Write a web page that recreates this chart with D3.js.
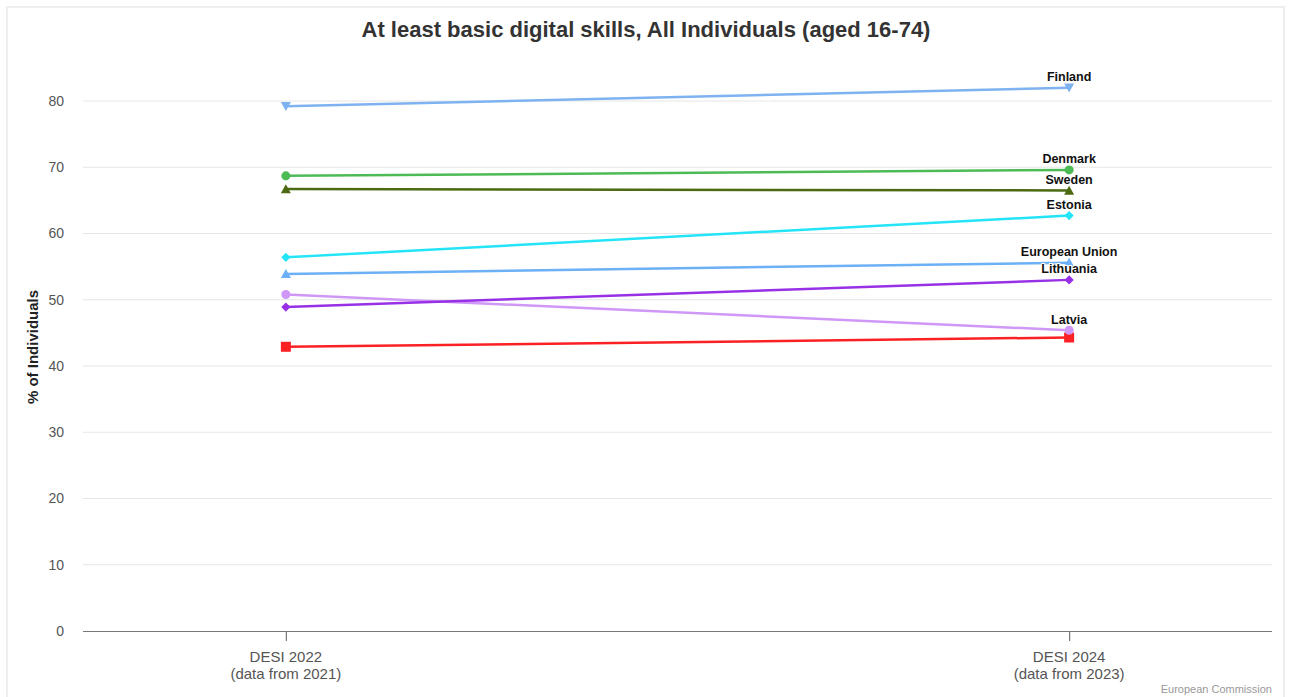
<!DOCTYPE html>
<html>
<head>
<meta charset="utf-8">
<script src="https://cdn.jsdelivr.net/npm/d3@7"></script>
<style>
  html, body { margin: 0; padding: 0; background: #fff; }
  svg { display: block; font-family: "Liberation Sans", Arial, sans-serif; }
</style>
</head>
<body>
<svg id="chart" width="1289" height="697"></svg>
<script>
// Periods on the x axis (two-line labels)
const periods = ["DESI 2022", "DESI 2024"];
const periodNotes = ["(data from 2021)", "(data from 2023)"];

// Countries and their shares of individuals with at least basic digital skills
const countries = ["Finland", "Denmark", "Sweden", "Estonia", "European Union", "Lithuania", "Latvia", "Poland"];
const values2022 = [79.2, 68.7, 66.7, 56.4, 53.9, 48.9, 50.8, 42.9];
const values2024 = [82.0, 69.6, 66.5, 62.7, 55.6, 53.0, 45.4, 44.3];
const showLabel = [true, true, true, true, true, true, true, false];

const colors = ["#7fb2f0", "#4cbb55", "#4b6a12", "#23e5f7", "#6cb0f6", "#9831e6", "#cf98f7", "#fb2024"];
const symbols = ["triangleDown", "circle", "triangle", "diamond", "triangle", "diamond", "circle", "square"];

const yTicks = [0, 10, 20, 30, 40, 50, 60, 70, 80];

const W = 1289, H = 697;
const margin = { left: 83, right: 17, top: 101, bottom: 66 };
const svg = d3.select("#chart");

// frame around the chart
svg.append("path")
  .attr("d", `M7,${H} V7 H1284 V${H}`)
  .attr("fill", "none").attr("stroke", "#eeeeee").attr("stroke-width", 2);

const x = d3.scalePoint().domain(periods)
  .range([margin.left, W - margin.right]).padding(0.259);
const y = d3.scaleLinear().domain([0, 80]).range([631, 101]);

// gridlines
svg.append("g").selectAll("line").data(yTicks.filter(d => d > 0)).join("line")
  .attr("x1", margin.left).attr("x2", W - margin.right)
  .attr("y1", d => y(d)).attr("y2", d => y(d))
  .attr("stroke", "#e6e6e6").attr("stroke-width", 1);

// y axis labels
const yAxis = d3.axisLeft(y).tickValues(yTicks).tickSize(0).tickPadding(0).tickFormat(d3.format("d"));
const gy = svg.append("g").attr("transform", `translate(${margin.left - 19},0)`).call(yAxis);
gy.select(".domain").remove();
gy.selectAll("text").attr("fill", "#555").attr("font-size", 14).attr("font-family", "Liberation Sans, Arial, sans-serif");

// x axis baseline + ticks
const xAxis = d3.axisBottom(x).tickSize(10).tickSizeOuter(0).tickFormat("");
const gx = svg.append("g").attr("transform", `translate(0,${y(0)})`).call(xAxis);
gx.select(".domain").attr("stroke", "#777").attr("stroke-width", 1.2)
  .attr("d", `M${margin.left},0.5H${W - margin.right}`);
gx.selectAll(".tick line").attr("stroke", "#777").attr("stroke-width", 1.2);

// two-line category labels
periods.forEach((p, i) => {
  const t = svg.append("text").attr("x", x(p)).attr("text-anchor", "middle")
    .attr("fill", "#555").attr("font-size", 15);
  t.append("tspan").attr("x", x(p)).attr("y", 662).text(p);
  t.append("tspan").attr("x", x(p)).attr("y", 679).text(periodNotes[i]);
});

// y axis title
svg.append("text")
  .attr("transform", `translate(38,347) rotate(-90)`)
  .attr("text-anchor", "middle").attr("font-size", 15).attr("font-weight", "bold")
  .attr("fill", "#222").text("% of Individuals");

// title
svg.append("text").attr("x", 646).attr("y", 37).attr("text-anchor", "middle")
  .attr("font-size", 22).attr("font-weight", "bold").attr("fill", "#333")
  .text("At least basic digital skills, All Individuals (aged 16-74)");

// credit
svg.append("text").attr("x", 1272).attr("y", 693).attr("text-anchor", "end")
  .attr("font-size", 11).attr("fill", "#999").text("European Commission");

// marker shapes
function markerPath(kind) {
  switch (kind) {
    case "circle": return d3.symbol(d3.symbolCircle, 64)();
    case "square": return "M-5,-5H5V5H-5Z";
    case "diamond": return "M0,-4.6L4.6,0L0,4.6L-4.6,0Z";
    case "triangle": return "M0,-4.8L5,4.2L-5,4.2Z";
    case "triangleDown": return "M0,4.8L5,-4.2L-5,-4.2Z";
  }
}

const series = countries.map((c, i) => ({
  name: c, color: colors[i], symbol: symbols[i], label: showLabel[i],
  points: [[periods[0], values2022[i]], [periods[1], values2024[i]]]
}));

const line = d3.line().x(d => x(d[0])).y(d => y(d[1]));

// draw in reverse so Finland etc. sit on top
const gs = svg.append("g").selectAll("g").data(series.slice().reverse()).join("g");
gs.append("path").attr("d", d => line(d.points))
  .attr("fill", "none").attr("stroke", d => d.color).attr("stroke-width", 2.5);
gs.each(function (d) {
  d3.select(this).selectAll("path.m").data(d.points).join("path").attr("class", "m")
    .attr("transform", p => `translate(${x(p[0])},${y(p[1])})`)
    .attr("d", markerPath(d.symbol)).attr("fill", d.color);
});

// end labels
svg.append("g").selectAll("text").data(series.filter(s => s.label)).join("text")
  .attr("x", d => x(periods[1]))
  .attr("y", d => y(d.points[1][1]) - 6.5)
  .attr("text-anchor", "middle").attr("font-size", 12.5).attr("font-weight", "bold")
  .attr("fill", "#111")
  .attr("stroke", "#fff").attr("stroke-width", 2).attr("paint-order", "stroke")
  .text(d => d.name);
</script>
</body>
</html>
